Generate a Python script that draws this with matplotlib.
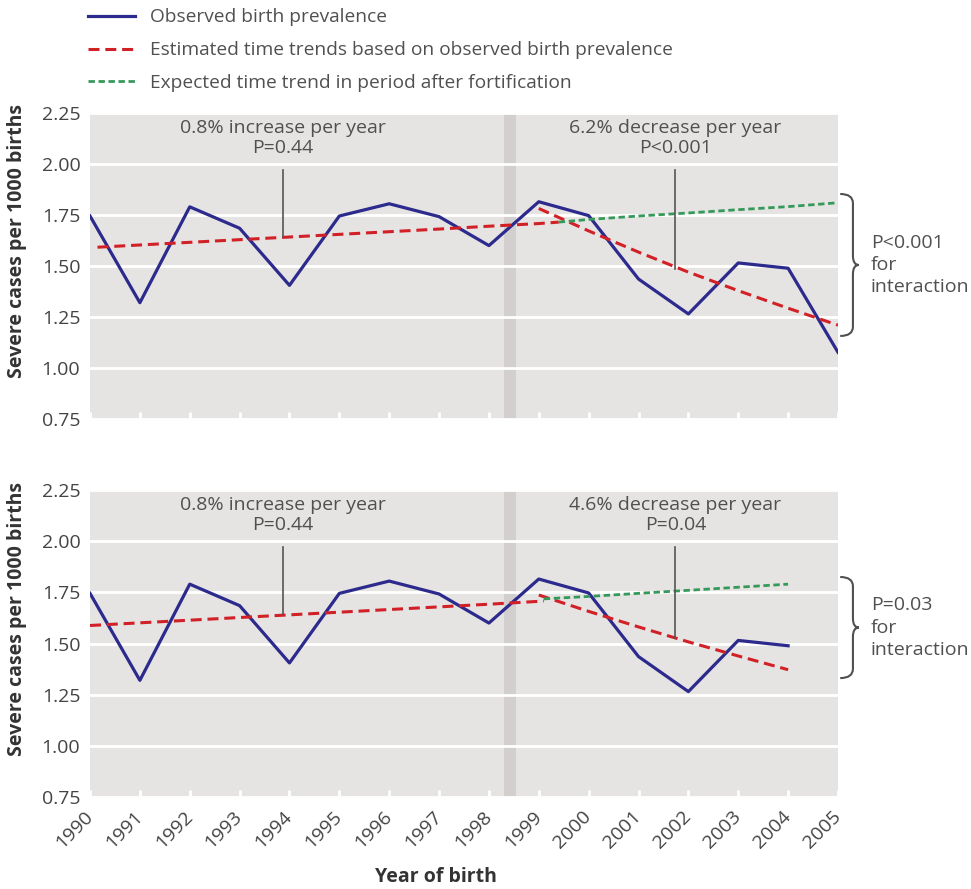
#!/usr/bin/env python
import numpy as np
import matplotlib.pyplot as plt
from matplotlib.path import Path
from matplotlib.patches import PathPatch
import matplotlib.transforms as mtransforms

years = [1990, 1991, 1992, 1993, 1994, 1995, 1996, 1997,
	1998, 1999, 2000, 2001, 2002, 2003, 2004, 2005]
observed = [1.745, 1.32, 1.79, 1.685, 1.405, 1.745, 1.805, 1.742,
	1.60, 1.815, 1.747, 1.436, 1.265, 1.515, 1.489, 1.077]

# pre-fortification trend (same in both panels)
pre_years_top = [1990.15, 1991, 1992, 1993, 1994, 1995, 1996, 1997, 1998, 1999, 1999.4]
pre_vals_top = [1.592, 1.603, 1.616, 1.629, 1.642, 1.655, 1.668, 1.681, 1.695, 1.708, 1.715]
pre_years_bot = [1990, 1991, 1992, 1993, 1994, 1995, 1996, 1997, 1998, 1999, 1999.1]
pre_vals_bot = [1.588, 1.601, 1.614, 1.627, 1.640, 1.653, 1.666, 1.679, 1.692, 1.706, 1.708]

# post-fortification trends
post_years_top = [1999, 2000, 2001, 2002, 2003, 2004, 2005]
post_vals_top = [1.782, 1.672, 1.568, 1.470, 1.379, 1.293, 1.210]
post_years_bot = [1999, 2000, 2001, 2002, 2003, 2004]
post_vals_bot = [1.737, 1.657, 1.581, 1.508, 1.439, 1.372]

# expected continuation of the pre-fortification trend
exp_years_top = [1999.4, 2000, 2001, 2002, 2003, 2004, 2005]
exp_vals_top = [1.715, 1.728, 1.745, 1.760, 1.776, 1.791, 1.810]
exp_years_bot = [1999.1, 2000, 2001, 2002, 2003, 2004]
exp_vals_bot = [1.718, 1.730, 1.745, 1.760, 1.775, 1.790]

# leader lines from the labels down to the trend
lead_x = [1993.87, 2001.74]
lead_top = 1.97
lead_end_top = [1.642, 1.486]
lead_end_bot = [1.642, 1.525]

pre_label = ['0.8% increase per year\nP=0.44', '0.8% increase per year\nP=0.44']
post_label = ['6.2% decrease per year\nP<0.001', '4.6% decrease per year\nP=0.04']
interaction = ['P<0.001\nfor\ninteraction', 'P=0.03\nfor\ninteraction']
brace_span = [(1.853, 1.157), (1.825, 1.331)]

ticks_y = [0.75, 1.00, 1.25, 1.50, 1.75, 2.00, 2.25]

BLUE = '#2c2a8c'
RED = '#d22027'
GREEN = '#35995a'
PANEL = '#e6e4e3'
BAND = '#d3cfce'
TXT = '#505050'


def brace(ax, ytop, ybot, x0=1.003, x1=1.020, x2=1.028, r=0.045):
	ymid = (ytop + ybot) / 2.0
	verts = [(x0, ytop), (x1, ytop), (x1, ytop - r),
		(x1, ymid + r), (x1, ymid), (x2, ymid),
		(x1, ymid), (x1, ymid - r),
		(x1, ybot + r), (x1, ybot), (x0, ybot)]
	codes = [Path.MOVETO, Path.CURVE3, Path.CURVE3,
		Path.LINETO, Path.CURVE3, Path.CURVE3,
		Path.CURVE3, Path.CURVE3,
		Path.LINETO, Path.CURVE3, Path.CURVE3]
	trans = mtransforms.blended_transform_factory(ax.transAxes, ax.transData)
	p = PathPatch(Path(verts, codes), transform=trans, fill=False,
		edgecolor=TXT, lw=1.5, clip_on=False)
	ax.add_patch(p)


if __name__ == '__main__':
	plt.rcParams['font.family'] = ['Open Sans', 'DejaVu Sans']
	fig = plt.figure(figsize=(9.71, 8.89), dpi=100)
	ax_top = fig.add_axes([0.0927, 0.5287, 0.7703, 0.3442])
	ax_bot = fig.add_axes([0.0927, 0.1035, 0.7703, 0.3453])

	panels = [
		(ax_top, 16, pre_years_top, pre_vals_top, post_years_top, post_vals_top,
			exp_years_top, exp_vals_top, lead_end_top),
		(ax_bot, 15, pre_years_bot, pre_vals_bot, post_years_bot, post_vals_bot,
			exp_years_bot, exp_vals_bot, lead_end_bot),
	]
	for i, (ax, n, px, py, qx, qy, ex, ey, lend) in enumerate(panels):
		ax.set_facecolor(PANEL)
		for s in ax.spines.values():
			s.set_visible(False)
		ax.set_xlim(1990, 2005)
		ax.set_ylim(0.75, 2.25)
		ax.axvspan(1998.3, 1998.54, color=BAND, lw=0, zorder=0.5)
		ax.set_yticks(ticks_y)
		ax.set_yticklabels(['%.2f' % t for t in ticks_y])
		ax.yaxis.grid(True, color='white', lw=2)
		ax.set_axisbelow(True)
		ax.set_xticks(years)
		ax.tick_params(axis='y', length=0, pad=7, labelsize=14, labelcolor='#444444')
		ax.tick_params(axis='x', direction='in', length=5, width=2, color='white',
			labelsize=14, labelcolor='#444444', pad=12)
		if i == 0:
			ax.set_xticklabels([])
		else:
			ax.set_xticklabels([str(y) for y in years], rotation=45, ha='right',
				rotation_mode='anchor', va='center')

		ax.plot(years[:n], observed[:n], color=BLUE, lw=2.3, zorder=3,
			label='Observed birth prevalence')
		ax.plot(px, py, color=RED, lw=2.2, dashes=(3.6, 1.9), zorder=4,
			label='Estimated time trends based on observed birth prevalence')
		ax.plot(qx, qy, color=RED, lw=2.2, dashes=(3.6, 1.9), zorder=4)
		ax.plot(ex, ey, color=GREEN, lw=2.0, dashes=(2.3, 1.3), zorder=4,
			label='Expected time trend in period after fortification')

		for lx, le in zip(lead_x, lend):
			ax.plot([lx, lx], [lead_top, le], color='#555555', lw=1.2, zorder=5)
		ax.text(lead_x[0], 2.127, pre_label[i], ha='center', va='center',
			fontsize=14, color=TXT, linespacing=1.15)
		ax.text(lead_x[1], 2.127, post_label[i], ha='center', va='center',
			fontsize=14, color=TXT, linespacing=1.15)

		ytop, ybot = brace_span[i]
		brace(ax, ytop, ybot)
		trans = mtransforms.blended_transform_factory(ax.transAxes, ax.transData)
		ax.text(1.044, (ytop + ybot) / 2.0, interaction[i], transform=trans,
			ha='left', va='center', fontsize=14, color=TXT, linespacing=1.3)

	fig.text(0.017, 1 - 241 / 889.0, 'Severe cases per 1000 births', rotation=90,
		ha='center', va='center', fontsize=14, fontweight='bold', color='#333333')
	fig.text(0.017, 1 - 619 / 889.0, 'Severe cases per 1000 births', rotation=90,
		ha='center', va='center', fontsize=14, fontweight='bold', color='#333333')
	fig.text(0.449, 1 - 877 / 889.0, 'Year of birth', ha='center', va='center',
		fontsize=14, fontweight='bold', color='#333333')

	h, l = ax_top.get_legend_handles_labels()
	leg = fig.legend(h, l, loc='upper left', bbox_to_anchor=(0.0866, 0.995),
		frameon=False, fontsize=13.8, handlelength=2.45, handletextpad=0.78,
		labelspacing=0.78, borderpad=0.2, borderaxespad=0)
	for t in leg.get_texts():
		t.set_color(TXT)

	fig.savefig('out.png', dpi=100, facecolor='white')
